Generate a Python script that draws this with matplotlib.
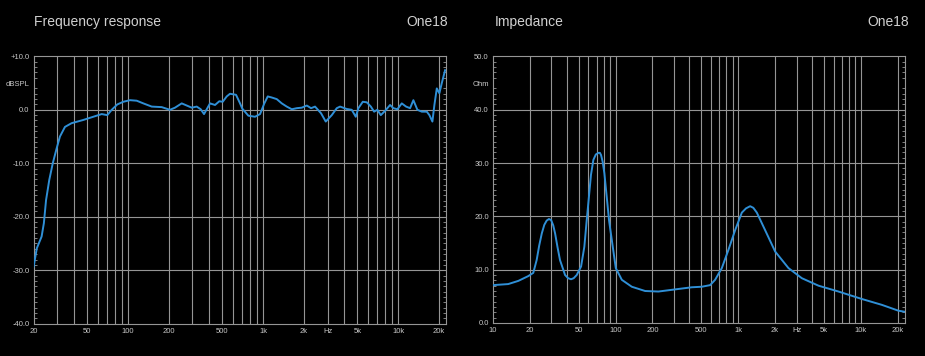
import matplotlib
matplotlib.use('Agg')
import matplotlib.pyplot as plt
from matplotlib.ticker import FixedLocator, MultipleLocator, NullFormatter

plt.rcParams['font.family'] = ['Liberation Sans', 'DejaVu Sans']

# Frequency response (Hz, dBSPL)
fr_freq = [20, 21.1, 22.9, 23.8, 24.7, 26.1, 27.7, 29.6, 31.3, 34.1, 38.2, 46.6, 55.3,
           63.8, 70.2, 75.7, 83.2, 92.2, 103.4, 115.9, 129.7, 149.7, 177.5, 204.4,
           222.7, 249.7, 271.9, 296.2, 322.6, 345.3, 365.3, 386.4, 404.6, 440.6,
           474.1, 502.4, 537.9, 569, 630.5, 675.1, 702.2, 777.9, 871.8, 949.6,
           1021.5, 1082.5, 1158.8, 1262, 1375, 1497, 1631, 1776, 1934, 2107, 2266,
           2425, 2686, 2911, 3225, 3512, 3715, 4165, 4535, 4857, 5077, 5473, 5862,
           6279, 6641, 7023, 7440, 8004, 8718, 9222, 9874, 10640, 11450, 12260,
           12970, 13890, 14970, 16310, 17050, 17940, 18560, 19340, 20200, 21060, 22270]
fr_db = [-29.3, -25.9, -23.7, -21.2, -16.9, -13.1, -10.0, -7.2, -5.0, -3.2, -2.5, -1.9, -1.3,
         -0.8, -1.0, 0.0, 1.0, 1.5, 1.8, 1.7, 1.2, 0.6, 0.5, 0.0,
         0.4, 1.2, 0.8, 0.4, 0.6, 0.1, -0.8, 0.3, 1.2, 0.9,
         1.6, 1.5, 2.5, 3.0, 2.8, 1.2, 0.2, -1.1, -1.3, -0.8,
         1.2, 2.5, 2.3, 2.0, 1.2, 0.6, 0.1, 0.3, 0.4, 0.8, 0.3,
         0.6, -0.65, -2.2, -1.0, 0.3, 0.6, 0.15, 0.0, -1.3, 0.3, 1.5, 1.4,
         0.6, -0.35, 0.0, -1.0, -0.2, 0.9, 0.3, 0.1, 1.2, 0.6, 0.3,
         1.8, 0.0, -0.35, -0.35, -1.0, -2.2, 0.9, 4.0, 3.1, 5.0, 7.4]

# Impedance (Hz, Ohm)
z_freq = [10, 13.3, 16.1, 19.4, 21.3, 22.7, 23.8, 25.0, 26.2, 27.4, 28.6, 29.8, 31.0,
          32.1, 33.6, 35.2, 38.7, 41.0, 43.3, 45.5, 48.2, 52.3, 55.6, 58.0, 60.8,
          63.0, 65.9, 69.0, 72.4, 74.5, 76.1, 78.5, 81.0, 84.8, 88.5, 93.1, 100.4,
          112.4, 135.6, 174.1, 223.6, 306, 418.8, 505.3, 590.8, 649, 736, 833,
          945, 1072, 1160, 1253, 1330, 1421, 1661, 2005, 2574, 3311, 4523, 6588,
          10230, 14900, 20350, 23000]
z_ohm = [7.1, 7.3, 7.9, 8.8, 9.4, 11.8, 14.5, 16.8, 18.4, 19.2, 19.5, 19.3, 18.3,
         16.8, 14.2, 11.8, 9.0, 8.4, 8.2, 8.4, 9.0, 10.6, 14.3, 19.0, 24.0,
         27.8, 30.6, 31.6, 31.9, 31.9, 31.5, 30.2, 28.1, 23.5, 19.2, 15.6, 10.3,
         8.1, 6.8, 6.0, 5.9, 6.3, 6.7, 6.8, 7.1, 8.1, 10.3, 13.7,
         17.4, 20.7, 21.5, 21.9, 21.6, 20.7, 17.4, 13.4, 10.3, 8.4, 7.0, 5.9,
         4.5, 3.4, 2.3, 2.1]

fr_xticks = [20, 50, 100, 200, 500, 1000, 2000, 3000, 5000, 10000, 20000]
fr_xlabels = ['20', '50', '100', '200', '500', '1k', '2k', 'Hz', '5k', '10k', '20k']
z_xticks = [10, 20, 50, 100, 200, 500, 1000, 2000, 3000, 5000, 10000, 20000]
z_xlabels = ['10', '20', '50', '100', '200', '500', '1k', '2k', 'Hz', '5k', '10k', '20k']
fr_yticks = [10, 5, 0, -10, -20, -30, -40]
fr_ylabels = ['+10.0', 'dBSPL', '0.0', '-10.0', '-20.0', '-30.0', '-40.0']
z_yticks = [50, 45, 40, 30, 20, 10, 0]
z_ylabels = ['50.0', 'Ohm', '40.0', '30.0', '20.0', '10.0', '0.0']

# gridlines at 1..9 x decade
grid_x = [m * 10 ** e for e in range(1, 5) for m in range(1, 10)]

line_col = '#2f8fd6'
grid_col = '#959595'
text_col = '#d0d0d0'

fig = plt.figure(figsize=(9.25, 3.56), dpi=100, facecolor='black')
ax1 = fig.add_axes([0.0364, 0.0907, 0.4457, 0.7511])
ax2 = fig.add_axes([0.533, 0.0927, 0.4454, 0.749])


def style(ax, xlim, ylim, xticks, xlabels, yticks, ylabels, hlines):
    ax.set_facecolor('black')
    ax.set_xscale('log')
    ax.set_xlim(*xlim)
    ax.set_ylim(*ylim)
    for g in grid_x:
        if xlim[0] < g < xlim[1]:
            ax.axvline(g, color=grid_col, lw=0.8, zorder=1)
    for h in hlines:
        ax.axhline(h, color=grid_col, lw=0.8, zorder=1)
    ax.xaxis.set_major_locator(FixedLocator(xticks))
    ax.xaxis.set_minor_locator(FixedLocator([]))
    ax.xaxis.set_minor_formatter(NullFormatter())
    ax.set_xticklabels(xlabels)
    ax.set_yticks(yticks)
    ax.set_yticklabels(ylabels)
    ax.yaxis.set_minor_locator(MultipleLocator(1))
    ax.tick_params(axis='both', which='major', length=0, labelsize=5.5,
                   labelcolor='#c8c8c8', pad=3)
    ax.tick_params(axis='y', which='minor', length=2.5, direction='in',
                   color=grid_col, width=0.6, left=True, right=True)
    for s in ax.spines.values():
        s.set_color(grid_col)
        s.set_linewidth(0.8)


style(ax1, (20, 22600), (-40, 10), fr_xticks, fr_xlabels, fr_yticks, fr_ylabels,
      [0, -10, -20, -30])
ax1.plot(fr_freq, fr_db, color=line_col, lw=1.4, zorder=3, solid_joinstyle='round')

style(ax2, (10, 23000), (0, 50), z_xticks, z_xlabels, z_yticks, z_ylabels,
      [10, 20, 30, 40])
ax2.plot(z_freq, z_ohm, color=line_col, lw=1.4, zorder=3, solid_joinstyle='round')

title_y = 1 - 22 / 356
fig.text(34 / 925, title_y, 'Frequency response', color=text_col,
         fontsize=10, ha='left', va='center')
fig.text(448 / 925, title_y, 'One18', color=text_col,
         fontsize=10, ha='right', va='center')
fig.text(495 / 925, title_y, 'Impedance', color=text_col,
         fontsize=10, ha='left', va='center')
fig.text(909 / 925, title_y, 'One18', color=text_col,
         fontsize=10, ha='right', va='center')

fig.savefig('out.png', dpi=100, facecolor='black')
